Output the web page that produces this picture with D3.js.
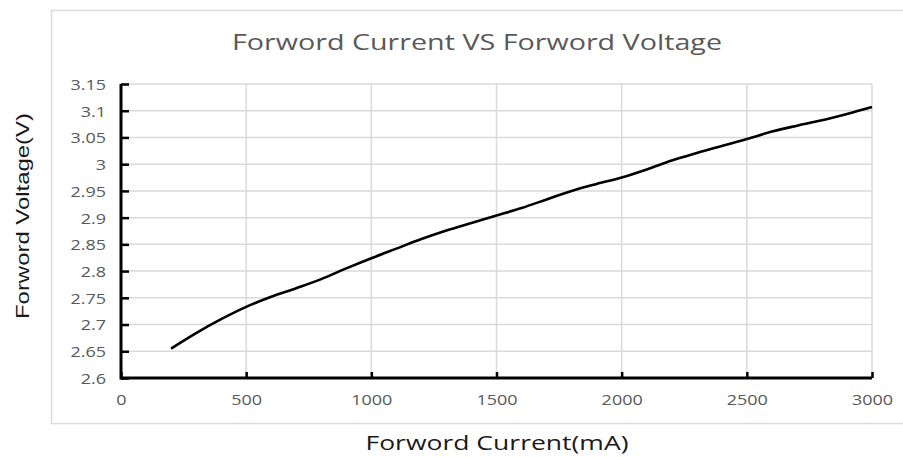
<!DOCTYPE html>
<html>
<head>
<meta charset="utf-8">
<script src="https://cdn.jsdelivr.net/npm/d3@7"></script>
<style>
  body { margin: 0; background: #fff; }
</style>
</head>
<body>
<div id="chart"></div>
<script>
// data
var current = [200, 300, 400, 500, 600, 700, 800, 900, 1000, 1100, 1200, 1300, 1400, 1500,
               1600, 1700, 1800, 1900, 2000, 2100, 2200, 2300, 2400, 2500, 2600, 2700, 2800, 2900, 3000];
var voltage = [2.655, 2.684, 2.71, 2.733, 2.752, 2.768, 2.785, 2.805, 2.824, 2.842, 2.86, 2.876, 2.89, 2.904,
               2.918, 2.934, 2.95, 2.963, 2.975, 2.99, 3.007, 3.021, 3.034, 3.047, 3.061, 3.072, 3.082, 3.094, 3.107];
var xTicks = [0, 500, 1000, 1500, 2000, 2500, 3000];
var yTicks = [2.6, 2.65, 2.7, 2.75, 2.8, 2.85, 2.9, 2.95, 3, 3.05, 3.1, 3.15];
var chartTitle = "Forword Current VS Forword Voltage";
var xTitle = "Forword Current(mA)";
var yTitle = "Forword Voltage(V)";

var W = 903, H = 457;
var margin = {top: 84, right: 31, bottom: 79, left: 121},
    width = W - margin.left - margin.right,
    height = H - margin.top - margin.bottom;

var svg = d3.select("#chart")
  .append("svg")
    .attr("width", W)
    .attr("height", H);

// outer chart box
svg.append("rect")
  .attr("x", 51.5).attr("y", 10.5)
  .attr("width", 870).attr("height", 413)
  .attr("fill", "none")
  .attr("stroke", "#dcdcdc")
  .attr("stroke-width", 1.5);

var g = svg.append("g")
  .attr("transform", "translate(" + margin.left + "," + margin.top + ")");

var x = d3.scaleLinear().domain([0, 3000]).range([0, width]);
var y = d3.scaleLinear().domain([2.6, 3.15]).range([height, 0]);

// grid
g.append("g")
  .selectAll("line")
  .data(yTicks)
  .enter().append("line")
    .attr("x1", 0).attr("x2", width)
    .attr("y1", function(d) { return y(d); })
    .attr("y2", function(d) { return y(d); })
    .attr("stroke", "#d9d9d9")
    .attr("stroke-width", 1.5);
g.append("g")
  .selectAll("line")
  .data(xTicks.slice(1))
  .enter().append("line")
    .attr("x1", function(d) { return x(d); })
    .attr("x2", function(d) { return x(d); })
    .attr("y1", 0).attr("y2", height)
    .attr("stroke", "#d9d9d9")
    .attr("stroke-width", 1.5);

// the curve
var data = current.map(function(c, i) { return {c: c, v: voltage[i]}; });
var line = d3.line()
  .curve(d3.curveMonotoneX)
  .x(function(d) { return x(d.c); })
  .y(function(d) { return y(d.v); });
g.append("path")
  .datum(data)
  .attr("d", line)
  .attr("fill", "none")
  .attr("stroke", "#000")
  .attr("stroke-width", 2.6);

// axes
var xAxis = g.append("g")
  .attr("transform", "translate(0," + height + ")")
  .call(d3.axisBottom(x).tickValues(xTicks).tickSize(-6).tickSizeOuter(0).tickPadding(0)
        .tickFormat(d3.format("d")));
var yAxis = g.append("g")
  .call(d3.axisLeft(y).tickValues(yTicks).tickSize(-8).tickSizeOuter(0).tickPadding(0)
        .tickFormat(function(d) { return String(+d.toFixed(2)); }));

[xAxis, yAxis].forEach(function(a) {
  a.select(".domain").attr("stroke", "#000").attr("stroke-width", 3);
  a.selectAll(".tick line").attr("stroke", "#000").attr("stroke-width", 2.5);
  a.selectAll(".tick text")
    .attr("fill", "#595959")
    .style("font-family", "'Open Sans', sans-serif")
    .style("font-size", "15px");
});
xAxis.select(".domain").attr("d", "M0,0H" + width);
yAxis.select(".domain").attr("d", "M0,0V" + (height + 1.5));
xAxis.selectAll(".tick text")
  .attr("y", 0).attr("dy", 0)
  .attr("transform", "translate(0,27) scale(1.2,1)");
yAxis.selectAll(".tick text")
  .attr("x", 0).attr("dy", "0.36em")
  .attr("transform", "translate(-15,0) scale(1.2,1)");

// titles
svg.append("text")
  .attr("x", 477).attr("y", 50)
  .attr("text-anchor", "middle")
  .attr("fill", "#595959")
  .attr("textLength", 490)
  .attr("lengthAdjust", "spacingAndGlyphs")
  .style("font-family", "'Open Sans', sans-serif")
  .style("font-size", "21px")
  .text(chartTitle);

svg.append("text")
  .attr("x", 497).attr("y", 450)
  .attr("text-anchor", "middle")
  .attr("fill", "#1a1a1a")
  .attr("textLength", 263)
  .attr("lengthAdjust", "spacingAndGlyphs")
  .style("font-family", "'Open Sans', sans-serif")
  .style("font-size", "20px")
  .text(xTitle);

svg.append("text")
  .attr("transform", "translate(29,216) rotate(-90)")
  .attr("text-anchor", "middle")
  .attr("fill", "#1a1a1a")
  .attr("textLength", 206)
  .attr("lengthAdjust", "spacingAndGlyphs")
  .style("font-family", "'Liberation Sans', Arial, sans-serif")
  .style("font-size", "19px")
  .text(yTitle);
</script>
</body>
</html>
